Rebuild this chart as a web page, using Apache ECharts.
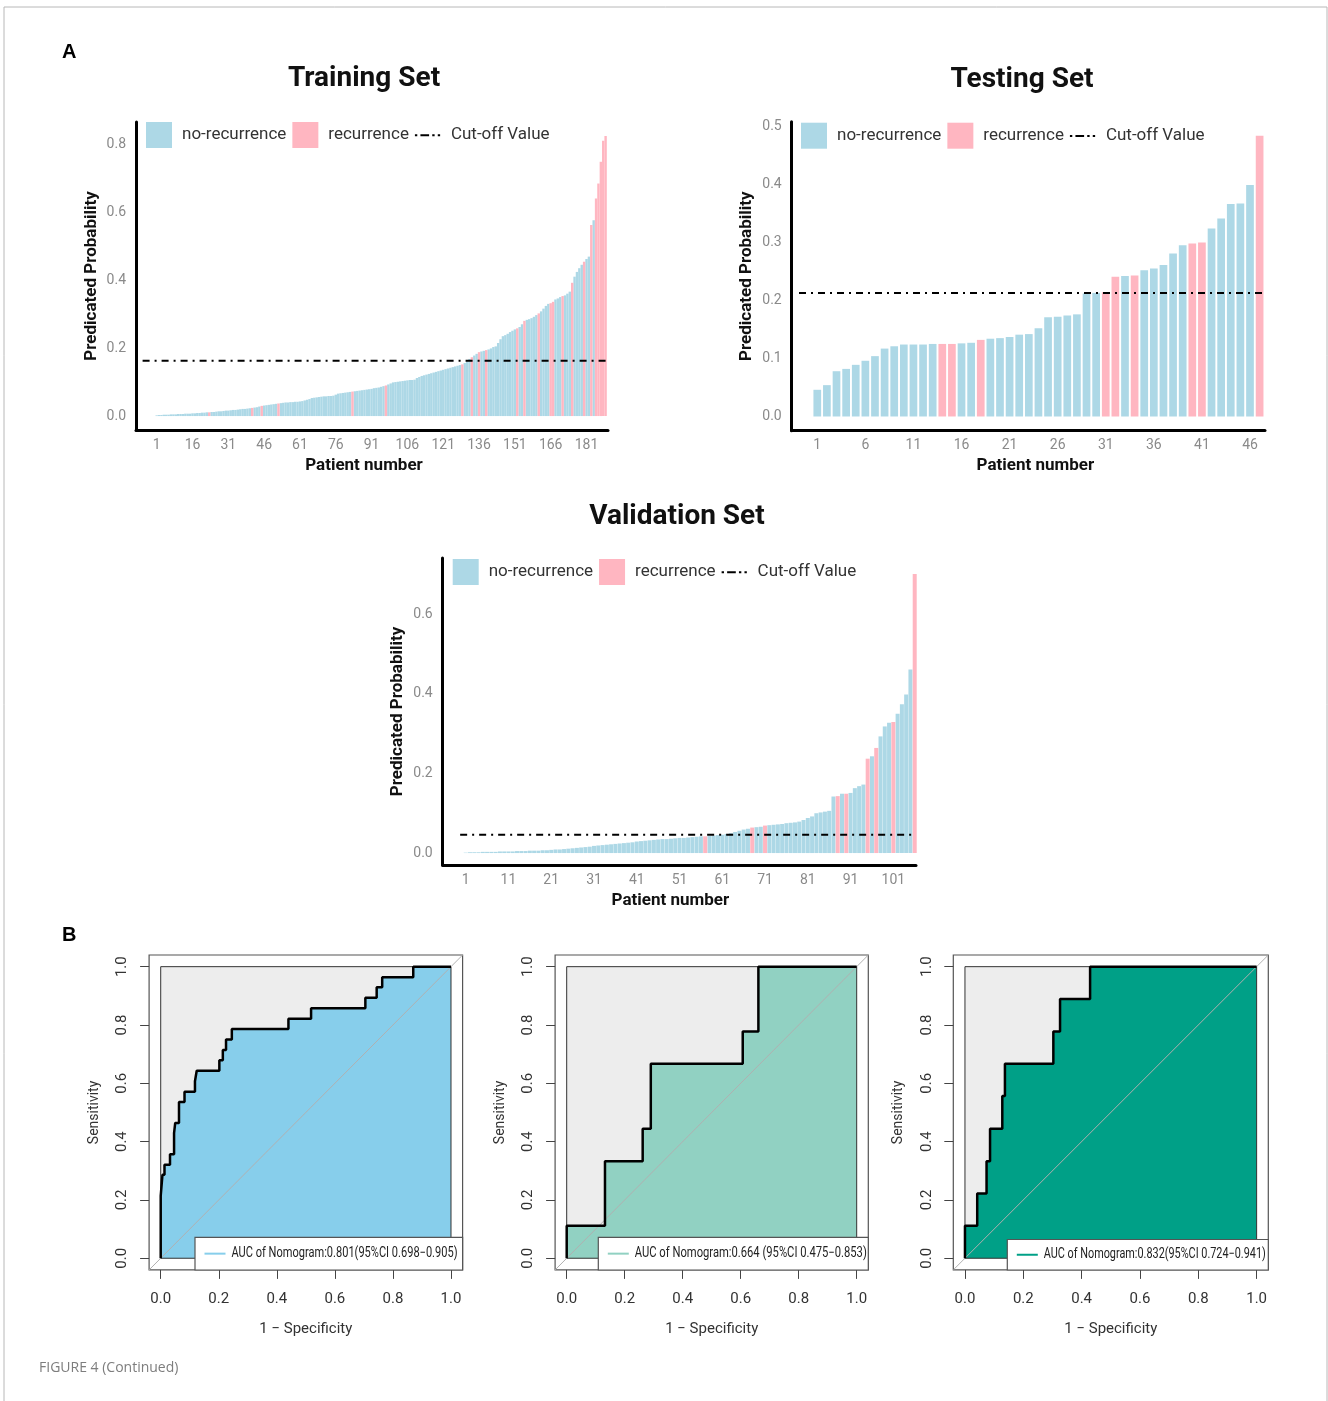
<!DOCTYPE html>
<html>
<head>
<meta charset="utf-8">
<title>Figure 4</title>
<script src="https://cdn.jsdelivr.net/npm/echarts@6/dist/echarts.min.js"></script>
<style>body{margin:0;background:#fff;}</style>
</head>
<body>
<div id="main" style="width:1328px;height:1401px;"></div>
<script>
// predicted probability per patient (sorted), and patients with recurrence
var trainProb = [
  0.002,0.003,0.003,0.004,0.004,0.004,0.005,0.005,0.005,0.006,
  0.006,0.006,0.007,0.007,0.007,0.008,0.008,0.009,0.009,0.010,
  0.010,0.011,0.011,0.012,0.012,0.013,0.014,0.014,0.015,0.016,
  0.016,0.017,0.018,0.018,0.019,0.020,0.021,0.021,0.022,0.023,
  0.024,0.025,0.026,0.028,0.030,0.031,0.032,0.033,0.034,0.035,
  0.036,0.037,0.038,0.039,0.040,0.040,0.041,0.041,0.042,0.042,
  0.043,0.044,0.046,0.048,0.050,0.053,0.054,0.055,0.056,0.057,
  0.058,0.058,0.059,0.059,0.060,0.063,0.066,0.067,0.068,0.069,
  0.070,0.071,0.072,0.073,0.074,0.075,0.076,0.077,0.078,0.079,
  0.080,0.082,0.083,0.084,0.086,0.088,0.090,0.093,0.096,0.099,
  0.100,0.101,0.102,0.103,0.104,0.105,0.106,0.106,0.107,0.112,
  0.115,0.118,0.120,0.122,0.124,0.126,0.128,0.130,0.132,0.134,
  0.136,0.138,0.140,0.142,0.144,0.146,0.148,0.150,0.152,0.156,
  0.163,0.168,0.173,0.178,0.183,0.188,0.190,0.192,0.194,0.196,
  0.199,0.203,0.205,0.215,0.226,0.235,0.238,0.242,0.247,0.251,
  0.255,0.258,0.262,0.270,0.280,0.283,0.285,0.288,0.292,0.297,
  0.302,0.308,0.316,0.324,0.330,0.332,0.336,0.343,0.346,0.350,
  0.353,0.355,0.360,0.366,0.392,0.410,0.424,0.435,0.445,0.454,
  0.462,0.469,0.562,0.576,0.640,0.684,0.748,0.810,0.824
];
var trainRecur = [23,41,45,52,83,97,129,133,136,139,152,155,161,166,167,171,175,180,183,185,186,187,188,189];

var testProb = [
  0.046,0.054,0.078,0.082,0.089,0.096,0.104,0.117,0.121,0.124,
  0.124,0.124,0.125,0.125,0.125,0.126,0.127,0.132,0.134,0.135,
  0.137,0.141,0.142,0.152,0.171,0.172,0.174,0.176,0.212,0.213,
  0.214,0.241,0.242,0.243,0.252,0.255,0.261,0.281,0.295,0.298,
  0.300,0.324,0.341,0.366,0.367,0.399,0.484
];
var testRecur = [14,15,18,31,32,34,40,41,47];

var validProb = [
  0.001,0.002,0.002,0.002,0.003,0.003,0.003,0.003,0.004,0.004,
  0.004,0.004,0.005,0.005,0.005,0.006,0.006,0.006,0.007,0.007,
  0.008,0.009,0.009,0.010,0.011,0.012,0.013,0.014,0.015,0.016,
  0.018,0.019,0.020,0.021,0.022,0.023,0.024,0.025,0.026,0.027,
  0.029,0.030,0.031,0.032,0.033,0.034,0.035,0.035,0.036,0.037,
  0.038,0.038,0.039,0.040,0.041,0.042,0.042,0.043,0.044,0.045,
  0.046,0.048,0.050,0.053,0.056,0.059,0.061,0.064,0.065,0.066,
  0.069,0.070,0.071,0.072,0.073,0.075,0.076,0.077,0.079,0.083,
  0.088,0.092,0.100,0.102,0.104,0.106,0.142,0.143,0.149,0.149,
  0.151,0.163,0.168,0.172,0.237,0.243,0.264,0.293,0.318,0.327,
  0.329,0.350,0.374,0.398,0.461,0.701
];
var validRecur = [57,68,71,88,90,95,97,101,106];

var cutoffs = [0.163, 0.213, 0.046];
var barTitles = ['Training Set', 'Testing Set', 'Validation Set'];
var trainXTicks = [1,16,31,46,61,76,91,106,121,136,151,166,181];
var testXTicks = [1,6,11,16,21,26,31,36,41,46];
var validXTicks = [1,11,21,31,41,51,61,71,81,91,101];
var trainYTicks = [0,0.2,0.4,0.6,0.8];
var testYTicks = [0,0.1,0.2,0.3,0.4,0.5];
var validYTicks = [0,0.2,0.4,0.6];

// ROC curves: [1 - specificity, sensitivity] corners
var roc1 = [[0,0],[0,0.214],[0.006,0.214],[0.006,0.286],[0.013,0.286],[0.013,0.321],[0.032,0.321],[0.032,0.357],
  [0.046,0.357],[0.046,0.429],[0.050,0.429],[0.050,0.464],[0.063,0.464],[0.063,0.536],[0.082,0.536],[0.082,0.571],
  [0.118,0.571],[0.118,0.607],[0.124,0.607],[0.124,0.643],[0.202,0.643],[0.202,0.679],[0.214,0.679],[0.214,0.714],
  [0.225,0.714],[0.225,0.750],[0.245,0.750],[0.245,0.786],[0.440,0.786],[0.440,0.821],[0.518,0.821],[0.518,0.857],
  [0.705,0.857],[0.705,0.893],[0.744,0.893],[0.744,0.929],[0.763,0.929],[0.763,0.964],[0.870,0.964],[0.870,1],[1,1]];
var roc2 = [[0,0],[0,0.111],[0.132,0.111],[0.132,0.333],[0.262,0.333],[0.262,0.444],[0.290,0.444],[0.290,0.667],
  [0.607,0.667],[0.607,0.778],[0.661,0.778],[0.661,1],[1,1]];
var roc3 = [[0,0],[0,0.111],[0.042,0.111],[0.042,0.222],[0.074,0.222],[0.074,0.333],[0.086,0.333],[0.086,0.444],
  [0.128,0.444],[0.128,0.556],[0.137,0.556],[0.137,0.667],[0.303,0.667],[0.303,0.778],[0.326,0.778],[0.326,0.889],
  [0.429,0.889],[0.429,1],[1,1]];
var rocLabels = ['AUC of Nomogram:0.801(95%CI 0.698\u22120.905)',
                 'AUC of Nomogram:0.664 (95%CI 0.475\u22120.853)',
                 'AUC of Nomogram:0.832(95%CI 0.724\u22120.941)'];
var rocTicks = [0,0.2,0.4,0.6,0.8,1];

var BLUE = '#ADD8E6', PINK = '#FFB6C1';
var rocColors = ['#87CEEB', '#91D1C2', '#00A087'];
var CUT_ICON = 'path://M0,0M33,26M0,12h3v2.5h-3zM7,12h11v2.5h-11zM22,12h3v2.5h-3zM29,12h3v2.5h-3z';

var barPanels = [
  {prob: trainProb, recur: trainRecur, xTicks: trainXTicks, yTicks: trainYTicks,
   left: 136, top: 122, width: 472, height: 308, xMin: -7.66, xMax: 190, yMin: -0.041, yMax: 0.865,
   barW: 2.4, cutFrom: -4.9, legLeft: 146, legTop: 122, titleX: 364, titleY: 79, namePad: [0, 16, 0, 0]},
  {prob: testProb, recur: testRecur, xTicks: testXTicks, yTicks: testYTicks,
   left: 791.7, top: 121.7, width: 473.3, height: 309, xMin: -1.66, xMax: 47.56, yMin: -0.0245, yMax: 0.508,
   barW: 7.7, cutFrom: -0.9, legLeft: 801, legTop: 122.7, titleX: 1022, titleY: 80, namePad: [0, 0, 0, 14]},
  {prob: validProb, recur: validRecur, xTicks: validXTicks, yTicks: validYTicks,
   left: 442.7, top: 558, width: 473.3, height: 307, xMin: -4.38, xMax: 106.3, yMin: -0.030, yMax: 0.741,
   barW: 4.0, cutFrom: -0.3, legLeft: 452.7, legTop: 559, titleX: 677, titleY: 517, namePad: [0, 18, 0, 0]}
];
var rocPanels = [
  {data: roc1, left: 149.1, width: 313.5, legX0: 195, legX1: 462.6, legY0: 1237.3, textW: 226},
  {data: roc2, left: 555.1, width: 313.2, legX0: 598.3, legX1: 868.3, legY0: 1237.3, textW: 232},
  {data: roc3, left: 953.3, width: 315.0, legX0: 1007.3, legX1: 1268.3, legY0: 1239.5, textW: 222}
];

var measureCtx = document.createElement('canvas').getContext('2d');
function textWidth(text, font) { measureCtx.font = font; return measureCtx.measureText(text).width; }

var option = {
  animation: false,
  backgroundColor: '#fff',
  grid: [], xAxis: [], yAxis: [], series: [], legend: [],
  graphic: [
    {type: 'rect', shape: {x: 4, y: 7, width: 1323, height: 1400}, style: {fill: 'none', stroke: '#b8b8b8', lineWidth: 1}, z: -10},
    {type: 'text', x: 62, y: 52, style: {text: 'A', fontFamily: 'Liberation Sans', fontWeight: 'bold', fontSize: 20, fill: '#000', verticalAlign: 'middle'}},
    {type: 'text', x: 62, y: 935, style: {text: 'B', fontFamily: 'Liberation Sans', fontWeight: 'bold', fontSize: 20, fill: '#000', verticalAlign: 'middle'}},
    {type: 'text', x: 39, y: 1368, style: {text: 'FIGURE 4 (Continued)', fontFamily: '"Open Sans"', fontSize: 14, fill: '#7d7d7d', verticalAlign: 'middle'}}
  ]
};

barPanels.forEach(function (p, g) {
  option.grid.push({left: p.left, top: p.top, width: p.width, height: p.height, outerBoundsMode: 'none'});
  option.xAxis.push({
    gridIndex: g, type: 'value', min: p.xMin, max: p.xMax,
    axisLine: {show: true, onZero: false, lineStyle: {color: '#000', width: 3}},
    axisTick: {show: false}, splitLine: {show: false},
    axisLabel: {customValues: p.xTicks, color: '#8a8a8a', fontFamily: 'Roboto', fontSize: 14, margin: 8},
    name: 'Patient number', nameLocation: 'middle', nameGap: 27,
    nameTextStyle: {fontFamily: 'Roboto', fontWeight: 'bold', fontSize: 17, color: '#111', padding: p.namePad}
  });
  option.yAxis.push({
    gridIndex: g, type: 'value', min: p.yMin, max: p.yMax,
    axisLine: {show: true, onZero: false, lineStyle: {color: '#000', width: 3}},
    axisTick: {show: false}, splitLine: {show: false},
    axisLabel: {customValues: p.yTicks, color: '#8a8a8a', fontFamily: 'Roboto', fontSize: 14, margin: 10,
      formatter: function (v) { return v.toFixed(1); }},
    name: 'Predicated Probability', nameLocation: 'middle', nameGap: 36,
    nameTextStyle: {fontFamily: 'Roboto', fontWeight: 'bold', fontSize: 17, color: '#111'}
  });
  var noRec = [], rec = [];
  p.prob.forEach(function (v, i) {
    if (p.recur.indexOf(i + 1) >= 0) rec.push([i + 1, v]); else noRec.push([i + 1, v]);
  });
  option.series.push(
    {name: 'no-recurrence', type: 'bar', xAxisIndex: g, yAxisIndex: g, data: noRec,
     barWidth: p.barW, barGap: '-100%', itemStyle: {color: BLUE}, silent: true},
    {name: 'recurrence', type: 'bar', xAxisIndex: g, yAxisIndex: g, data: rec,
     barWidth: p.barW, barGap: '-100%', itemStyle: {color: PINK}, silent: true},
    {name: 'Cut-off Value', type: 'line', xAxisIndex: g, yAxisIndex: g,
     data: [[p.cutFrom, cutoffs[g]], [p.xMax, cutoffs[g]]], symbol: 'none', silent: true, z: 5,
     itemStyle: {color: '#000'}, lineStyle: {color: '#000', width: 2, type: [7, 5, 2, 5]}}
  );
  option.legend.push({
    left: p.legLeft, top: p.legTop, padding: 0, itemGap: 6, itemWidth: 26, itemHeight: 26,
    selectedMode: false, z: 10,
    data: [{name: 'no-recurrence', icon: 'rect'}, {name: 'recurrence', icon: 'rect'},
           {name: 'Cut-off Value', icon: CUT_ICON}],
    textStyle: {fontFamily: 'Roboto', fontSize: 17, color: '#333', padding: [0, 0, 0, 5]}
  });
  option.graphic.push({type: 'text', x: p.titleX, y: p.titleY,
    style: {text: barTitles[g], fontFamily: 'Roboto', fontWeight: 'bold', fontSize: 28, fill: '#111',
            align: 'center', verticalAlign: 'middle'}});
});

rocPanels.forEach(function (p, k) {
  var g = k + 3;
  option.grid.push({left: p.left, top: 955, width: p.width, height: 314.9, outerBoundsMode: 'none',
    show: true, borderColor: '#555', borderWidth: 1.2, backgroundColor: 'transparent'});
  option.xAxis.push({
    gridIndex: g, type: 'value', min: -0.04, max: 1.04,
    axisLine: {show: false, onZero: false},
    axisTick: {show: true, customValues: rocTicks, length: 9, lineStyle: {color: '#444', width: 1}},
    axisLabel: {customValues: rocTicks, color: '#333', fontFamily: 'Roboto', fontSize: 15, margin: 22,
      formatter: function (v) { return v.toFixed(1); }},
    splitLine: {show: false},
    name: '1 \u2212 Specificity', nameLocation: 'middle', nameGap: 52,
    nameTextStyle: {fontFamily: 'Roboto', fontSize: 15, color: '#333'}
  });
  option.yAxis.push({
    gridIndex: g, type: 'value', min: -0.04, max: 1.04,
    axisLine: {show: false, onZero: false},
    axisTick: {show: true, customValues: rocTicks, length: 9, lineStyle: {color: '#444', width: 1}},
    axisLabel: {customValues: rocTicks, color: '#333', fontFamily: 'Roboto', fontSize: 15, margin: 19, rotate: 90,
      formatter: function (v) { return v.toFixed(1); }},
    splitLine: {show: false},
    name: 'Sensitivity', nameLocation: 'middle', nameGap: 48,
    nameTextStyle: {fontFamily: 'Roboto', fontSize: 14, color: '#333'}
  });
  option.series.push(
    {type: 'line', xAxisIndex: g, yAxisIndex: g, data: [[0, 1], [1, 1]], symbol: 'none', silent: true, z: 1,
     lineStyle: {width: 0}, areaStyle: {color: '#EDEDED', opacity: 1}},
    {type: 'line', xAxisIndex: g, yAxisIndex: g, data: p.data, symbol: 'none', silent: true, z: 2,
     lineStyle: {width: 0}, areaStyle: {color: rocColors[k], opacity: 1}},
    {type: 'line', xAxisIndex: g, yAxisIndex: g, data: [[0, 0], [0, 1], [1, 1], [1, 0], [0, 0]], symbol: 'none',
     silent: true, z: 3, lineStyle: {color: '#333', width: 1}},
    {type: 'line', xAxisIndex: g, yAxisIndex: g, data: [[-0.04, -0.04], [1.04, 1.04]], symbol: 'none',
     silent: true, z: 4, lineStyle: {color: '#b0b0b0', width: 1}},
    {type: 'line', xAxisIndex: g, yAxisIndex: g, data: p.data, symbol: 'none', silent: true, z: 5,
     lineStyle: {color: '#000', width: 2.5}}
  );
  // legend box in the style of R's legend()
  var midY = (p.legY0 + 1270) / 2;
  var sx = p.textW / textWidth(rocLabels[k], '14px Roboto');
  option.graphic.push(
    {type: 'rect', z: 20, shape: {x: p.legX0, y: p.legY0, width: p.legX1 - p.legX0, height: 1270 - p.legY0},
     style: {fill: '#fff', stroke: '#555', lineWidth: 1.2}},
    {type: 'line', z: 21, shape: {x1: p.legX0 + 9.5, y1: midY, x2: p.legX0 + 30.5, y2: midY},
     style: {stroke: rocColors[k], lineWidth: 2}},
    {type: 'text', z: 21, x: p.legX0 + 36.5, y: midY, scaleX: sx,
     style: {text: rocLabels[k], fontFamily: 'Roboto', fontSize: 14, fill: '#222', verticalAlign: 'middle'}}
  );
});

var myChart = echarts.init(document.getElementById('main'));
myChart.setOption(option);
</script>
</body>
</html>
